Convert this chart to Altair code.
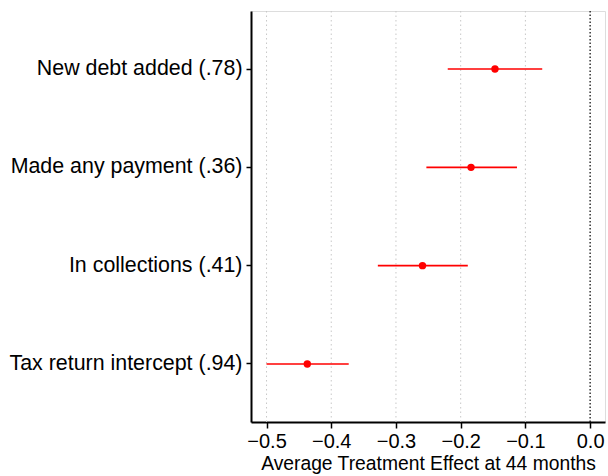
import altair as alt
import pandas as pd

# Outcomes (control-group mean in parentheses), top to bottom
outcomes = [
    "New debt added (.78)",
    "Made any payment (.36)",
    "In collections (.41)",
    "Tax return intercept (.94)",
]
estimates = [-0.147, -0.184, -0.259, -0.437]
ci_low = [-0.220, -0.253, -0.328, -0.500]
ci_high = [-0.074, -0.113, -0.189, -0.373]

grid_values = [-0.5, -0.4, -0.3, -0.2, -0.1]
zero_value = [0.0]

df = pd.DataFrame({
    "outcome": outcomes,
    "estimate": estimates,
    "low": ci_low,
    "high": ci_high,
})

FONT = "Liberation Sans"
x_scale = alt.Scale(domain=[-0.524, 0.023], nice=False, zero=False)
y_scale = alt.Scale(domain=outcomes, paddingInner=0, paddingOuter=0.09)

grid = alt.Chart(pd.DataFrame({"v": grid_values})).mark_rule(
    color="#c8c8c8", strokeDash=[1.5, 3], strokeWidth=1
).encode(x=alt.X("v:Q", scale=x_scale))

zero = alt.Chart(pd.DataFrame({"v": zero_value})).mark_rule(
    color="black", strokeDash=[1.5, 2], strokeWidth=1.2
).encode(x=alt.X("v:Q", scale=x_scale))

ci = alt.Chart(df).mark_rule(color="red", strokeWidth=1.6).encode(
    x=alt.X("low:Q", scale=x_scale),
    x2="high:Q",
    y=alt.Y("outcome:N", scale=y_scale),
)

points = alt.Chart(df).mark_circle(color="red", size=55, opacity=1).encode(
    x=alt.X(
        "estimate:Q",
        scale=x_scale,
        axis=alt.Axis(
            values=[-0.5, -0.4, -0.3, -0.2, -0.1, 0.0],
            format=".1f",
            title="Average Treatment Effect at 44 months",
            grid=False,
            domainColor="black",
            domainWidth=2,
            tickColor="black",
            tickWidth=1.5,
            tickSize=6,
            labelFontSize=20,
            labelFont=FONT,
            labelColor="black",
            labelPadding=3,
            titleFont=FONT,
            titleFontSize=19.3,
            titleFontWeight="normal",
            titleColor="black",
            titlePadding=3,
        ),
    ),
    y=alt.Y(
        "outcome:N",
        scale=y_scale,
        sort=outcomes,
        axis=alt.Axis(
            title=None,
            grid=False,
            domainColor="black",
            domainWidth=2,
            tickColor="black",
            tickWidth=1.5,
            tickSize=5,
            labelFontSize=21.4,
            labelFont=FONT,
            labelColor="black",
            labelPadding=4,
            labelLimit=300,
        ),
    ),
)

chart = (
    alt.layer(grid, zero, ci, points)
    .properties(
        width=354,
        height=411,
        autosize=alt.AutoSizeParams(type="none"),
        padding={"left": 251, "top": 11, "right": 3, "bottom": 54},
    )
    .configure_view(stroke=None)
    .configure(background="white")
)

chart.save("out.html", embed_options={"renderer": "svg", "actions": False})
